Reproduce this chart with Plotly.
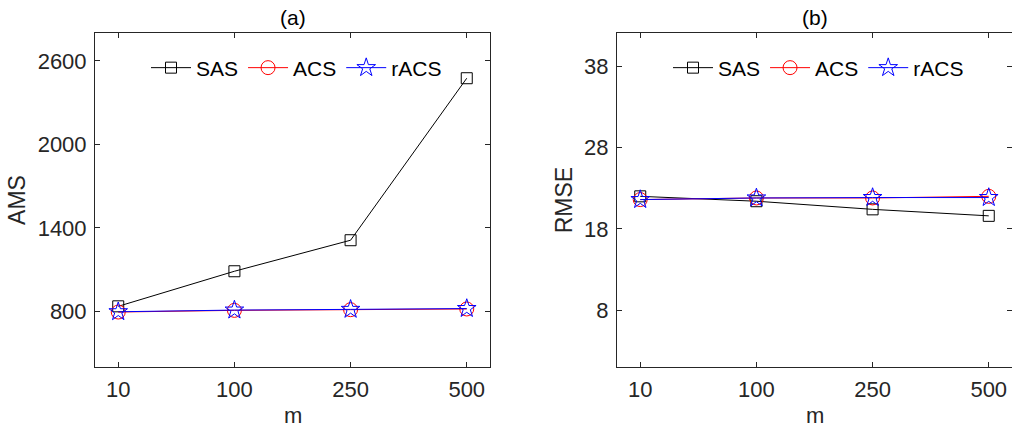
import plotly.graph_objects as go

categories = ["10", "100", "250", "500"]

# Panel (a): AMS
ams_sas = [836, 1088, 1311, 2475]
ams_acs = [795, 807, 812, 817]
ams_racs = [797, 809, 814, 820]

# Panel (b): RMSE
rmse_sas = [22.0, 21.4, 20.4, 19.6]
rmse_acs = [21.6, 21.8, 21.8, 22.0]
rmse_racs = [21.6, 21.8, 21.85, 21.85]

ams_ticks = [800, 1400, 2000, 2600]
rmse_ticks = [8, 18, 28, 38]

FONT = "Liberation Sans, Arial, sans-serif"
DARK = "#262626"

series = [
    ("SAS", "black", "square-open", 11),
    ("ACS", "red", "circle-open", 14),
    ("rACS", "blue", "star-open", 14),
]

fig = go.Figure()

for (name, color, symbol, size), ya, yb in zip(series, [ams_sas, ams_acs, ams_racs], [rmse_sas, rmse_acs, rmse_racs]):
    fig.add_trace(go.Scatter(
        x=categories, y=ya, name=name, mode="lines+markers",
        line=dict(color=color, width=1),
        marker=dict(symbol=symbol, size=size, color=color, line=dict(color=color, width=1)),
        xaxis="x", yaxis="y", legend="legend",
    ))
    fig.add_trace(go.Scatter(
        x=categories, y=yb, name=name, mode="lines+markers",
        line=dict(color=color, width=1),
        marker=dict(symbol=symbol, size=size, color=color, line=dict(color=color, width=1)),
        xaxis="x2", yaxis="y2", legend="legend2",
    ))

axis_common = dict(
    showline=True, linecolor=DARK, linewidth=1, mirror="ticks",
    ticks="inside", ticklen=5, tickcolor=DARK, tickwidth=1,
    showgrid=False, zeroline=False, automargin=False,
    tickfont=dict(family=FONT, size=22, color=DARK),
)

Wtot = 1012 - 95
d1 = [0, 395 / Wtot]
d2 = [(617 - 95) / Wtot, 1.0]
TF = dict(family=FONT, size=23, color=DARK)
MF = dict(family=FONT, size=22, color=DARK)

fig.update_layout(
    width=1012, height=429,
    margin=dict(l=95, r=0, t=33, b=62),
    paper_bgcolor="white", plot_bgcolor="white",
    font=dict(family=FONT, color=DARK),
    xaxis=dict(domain=d1, type="category", range=[-0.2, 3.2],
               ticklabelstandoff=3, anchor="y", **axis_common),
    yaxis=dict(domain=[0, 1], range=[400, 2800], tickvals=ams_ticks,
               title=dict(text="AMS", font=TF, standoff=5),
               ticklabelstandoff=3, anchor="x", **axis_common),
    xaxis2=dict(domain=d2, type="category", range=[-0.2, 3.2],
                ticklabelstandoff=3, anchor="y2", **axis_common),
    yaxis2=dict(domain=[0, 1], range=[1, 42.1], tickvals=rmse_ticks,
                title=dict(text="RMSE", font=TF, standoff=5),
                ticklabelstandoff=3, anchor="x2", **axis_common),
    legend=dict(orientation="h", x=(146 - 95) / Wtot, xanchor="left", y=1 - 35 / 334, yanchor="middle",
                bgcolor="rgba(0,0,0,0)", font=dict(family=FONT, size=21, color="black"),
                itemwidth=40, tracegroupgap=0),
    legend2=dict(orientation="h", x=(668 - 95) / Wtot, xanchor="left", y=1 - 35 / 334, yanchor="middle",
                 bgcolor="rgba(0,0,0,0)", font=dict(family=FONT, size=21, color="black"),
                 itemwidth=40, tracegroupgap=0),
    annotations=[
        dict(text="(a)", xref="x domain", yref="paper", x=0.5, y=1, yanchor="bottom", yshift=2,
             showarrow=False, font=dict(family=FONT, size=21, color="black")),
        dict(text="(b)", xref="x2 domain", yref="paper", x=0.5, y=1, yanchor="bottom", yshift=2,
             showarrow=False, font=dict(family=FONT, size=21, color="black")),
        dict(text="m", xref="x domain", yref="paper", x=0.5, y=0, yanchor="middle", yshift=-48,
             showarrow=False, font=MF),
        dict(text="m", xref="x2 domain", yref="paper", x=0.5, y=0, yanchor="middle", yshift=-48,
             showarrow=False, font=MF),
    ],
)

fig.write_html("out.html", config={"displayModeBar": False},
               post_script="document.body.style.margin='0';document.body.style.overflow='hidden';")
